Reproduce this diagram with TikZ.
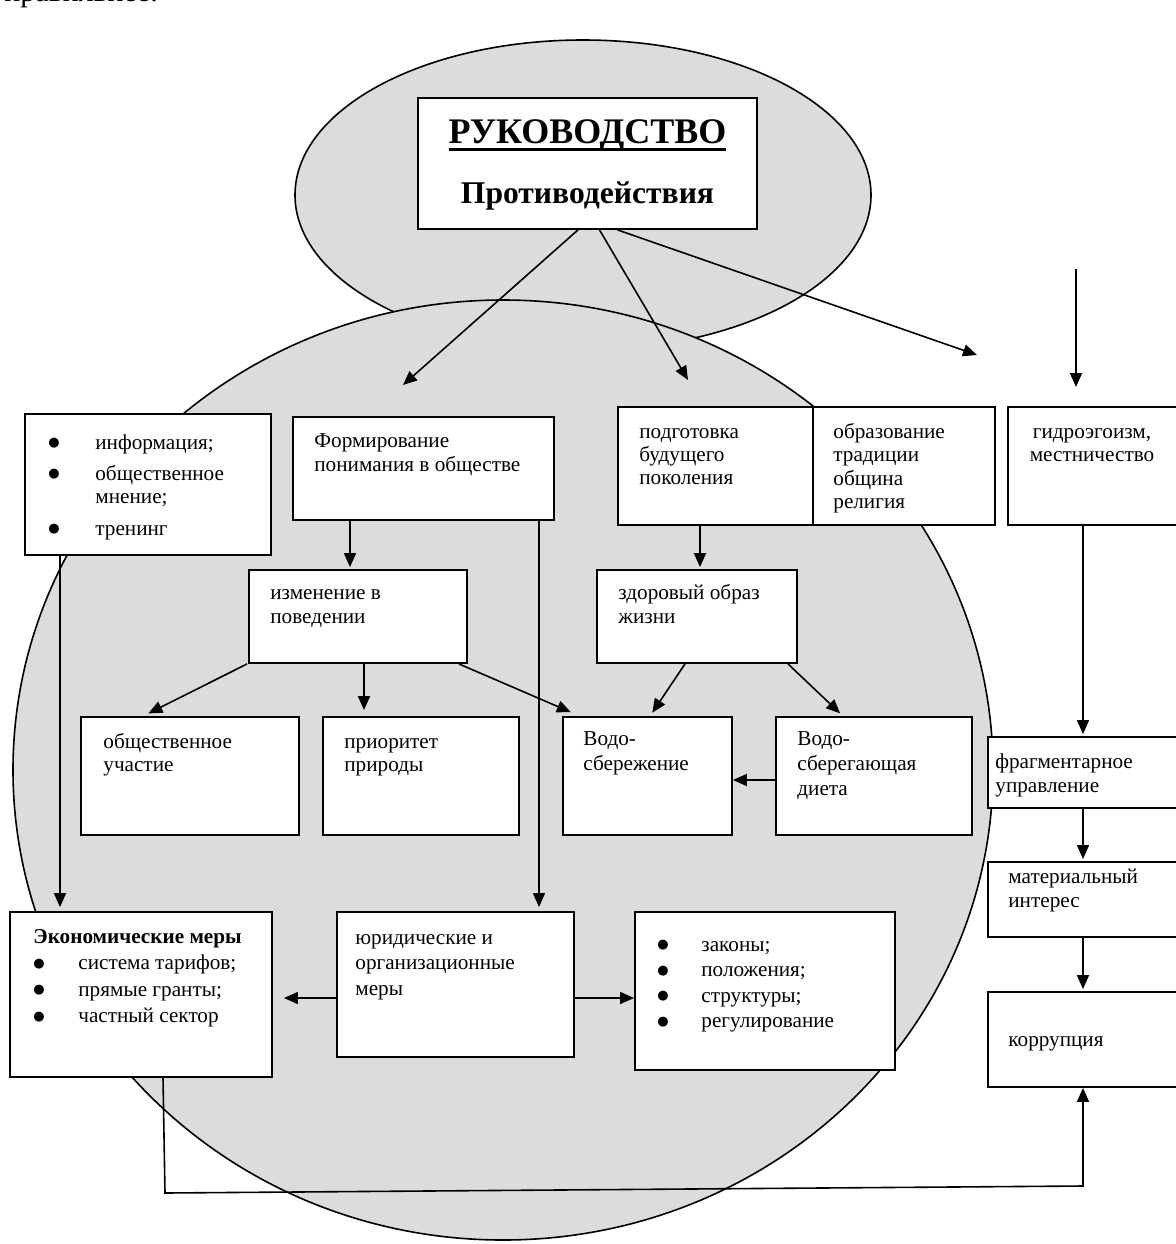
\documentclass[tikz,border=0pt]{standalone}
\usepackage{fontspec}
\setmainfont{Liberation Serif}
\newfontfamily\symf{DejaVu Sans}
\usetikzlibrary{arrows.meta,calc,fit}
\definecolor{blobgray}{HTML}{DCDCDC}
\newcommand\mybul[1]{\makebox[#1][l]{\raisebox{1.3pt}{\symf\fontsize{6.5}{7}\selectfont ●}}}
\newcommand\myul[1]{\setbox0\hbox{#1}\rlap{\rule[-4pt]{\wd0}{1.5pt}}\box0}
\newcommand\fs{\rule{0pt}{9pt}}
\begin{document}
\begin{tikzpicture}[x=0.5pt,y=-0.5pt,
  box/.style={draw, fill=white, line width=0.9pt, inner sep=0pt},
  txt/.style={inner sep=0pt, anchor=north west, align=left, font=\fontsize{10.6}{12}\selectfont},
  arr/.style={line width=0.8pt, -{Triangle[length=7pt,width=6pt]}},
  blob/.style={draw, fill=blobgray, line width=0.8pt},
]
\useasboundingbox (0,0) rectangle (1176,1244);

% partial text cut at the top edge
\node[inner sep=0pt, anchor=base west, font=\fontsize{15}{17}\selectfont] (toptext) at (4,1) {правильнее.};

% background shapes
\path[blob] (583,195) ellipse [x radius=288, y radius=155];
\path[blob] (503,770) ellipse [x radius=490, y radius=470];

% helper coordinates
\coordinate (x60) at (60,0);
\coordinate (x143) at (143,0);
\coordinate (x163) at (163,0);
\coordinate (x350) at (350,0);
\coordinate (x364) at (364,0);
\coordinate (x539) at (539,0);
\coordinate (x580) at (580,0);
\coordinate (x650) at (650,0);
\coordinate (x685) at (685,0);
\coordinate (x700) at (700,0);
\coordinate (x788) at (788,0);
\coordinate (x843) at (843,0);
\coordinate (x1083) at (1083,0);
\coordinate (y780) at (0,780);
\coordinate (y998) at (0,998);
\coordinate (t1) at (403,385);
\coordinate (t2) at (688,380);
\coordinate (t3) at (977,355);
\coordinate (f1) at (1076,269);
\coordinate (f2) at (1076,387);
\coordinate (b1) at (165,1193);
\coordinate (b2) at (1083,1186);

% boxes
\node[box, fit={(418,98) (757,229)}] (title) {};
\node[box, fit={(25,414) (271,555)}] (info) {};
\node[box, fit={(293,417) (554,520)}] (form) {};
\node[box, fit={(618,407) (813,525)}] (podg) {};
\node[box, fit={(813,407) (995,525)}] (obraz) {};
\node[box, fit={(1008,407) (1178,525)}] (gidro) {};
\node[box, fit={(249,570) (467,663)}] (izm) {};
\node[box, fit={(597,570) (797,663)}] (zdor) {};
\node[box, fit={(81,717) (299,835)}] (obsh) {};
\node[box, fit={(323,717) (519,835)}] (prior) {};
\node[box, fit={(563,717) (732,835)}] (vodo) {};
\node[box, fit={(776,717) (972,835)}] (vodod) {};
\node[box, fit={(988,737) (1178,808)}] (frag) {};
\node[box, fit={(988,862) (1178,937)}] (mat) {};
\node[box, fit={(988,992) (1178,1087)}] (korr) {};
\node[box, fit={(10,912) (272,1077)}] (econ) {};
\node[box, fit={(337,912) (574,1057)}] (jur) {};
\node[box, fit={(635,912) (895,1070)}] (zak) {};

% texts (node top = first baseline - 18)
\node[inner sep=0pt, anchor=base, font=\bfseries\fontsize{18}{20}\selectfont] (title-a) at (587.5,143) {\myul{РУКОВОДСТВО}};
\node[inner sep=0pt, anchor=base, font=\bfseries\fontsize{15.8}{18}\selectfont] (title-b) at (587.5,203) {Противодействия};

\node[txt, font=\fontsize{10.6}{11.5}\selectfont] (info-t) at (48,431) {\fs\mybul{23.5pt}информация;\\[4pt]\mybul{23.5pt}общественное\\\hspace*{23.5pt}мнение;\\[4.5pt]\mybul{23.5pt}тренинг};
\node[txt] (form-t) at (314,429) {\fs Формирование\\понимания в обществе};
\node[txt, font=\fontsize{10.6}{11.5}\selectfont] (podg-t) at (639,420) {\fs подготовка\\будущего\\поколения};
\node[txt, font=\fontsize{10.6}{11.75}\selectfont] (obraz-t) at (833,420) {\fs образование\\традиции\\община\\религия};
\node[inner sep=0pt, anchor=north, align=center, font=\fontsize{10.6}{11.5}\selectfont] (gidro-t) at (1092,420) {\fs гидроэгоизм,\\местничество};
\node[txt] (izm-t) at (270,581) {\fs изменение в\\поведении};
\node[txt] (zdor-t) at (618,581) {\fs здоровый образ\\жизни};
\node[txt, font=\fontsize{10.6}{11.5}\selectfont] (obsh-t) at (103,730) {\fs общественное\\участие};
\node[txt, font=\fontsize{10.6}{11.5}\selectfont] (prior-t) at (344,730) {\fs приоритет\\природы};
\node[txt, font=\fontsize{10.6}{12.5}\selectfont] (vodo-t) at (583,727) {\fs Водо-\\сбережение};
\node[txt, font=\fontsize{10.6}{12.5}\selectfont] (vodod-t) at (797,727) {\fs Водо-\\сберегающая\\диета};
\node[txt] (frag-t) at (995,750) {\fs фрагментарное\\управление};
\node[txt] (mat-t) at (1008,865) {\fs материальный\\интерес};
\node[txt] (korr-t) at (1008,1028) {\fs коррупция};
\node[txt, font=\fontsize{10.6}{13.25}\selectfont] (econ-t) at (33,925) {\fs\textbf{Экономические меры}\\\mybul{22.5pt}система тарифов;\\\mybul{22.5pt}прямые гранты;\\\mybul{22.5pt}частный сектор};
\node[txt, font=\fontsize{10.6}{12.75}\selectfont] (jur-t) at (355,926) {\fs юридические и\\организационные\\меры};
\node[txt, font=\fontsize{10.6}{12.75}\selectfont] (zak-t) at (657,933) {\fs\mybul{22pt}законы;\\\mybul{22pt}положения;\\\mybul{22pt}структуры;\\\mybul{22pt}регулирование};

% connectors
\draw[arr] ([xshift=-4.75pt]title.south) -- (t1);
\draw[arr] ([xshift=6pt]title.south) -- (t2);
\draw[arr] ([xshift=15pt]title.south) -- (t3);
\draw[arr] (f1) -- (f2);

\draw[arr, shorten >=2pt] (info.south -| x60) -- (econ.north -| x60);
\draw[arr, shorten >=1pt] (form.south -| x350) -- (izm.north -| x350);
\draw[arr, shorten >=2pt] (form.south -| x539) -- (jur.north -| x539);
\draw[arr, shorten >=1pt] (podg.south -| x700) -- (zdor.north -| x700);
\draw[arr, shorten >=3pt] ([xshift=-0.5pt]izm.south west) -- (obsh.north -| x143);
\draw[arr, shorten >=3pt] (izm.south -| x364) -- (prior.north -| x364);
\draw[arr, shorten >=5pt] ([xshift=-4.5pt]izm.south east) -- (vodo.north -| x580);
\draw[arr, shorten >=2pt] (zdor.south -| x685) -- (vodo.north -| x650);
\draw[arr, shorten >=2pt] (zdor.south -| x788) -- (vodod.north -| x843);
\draw[arr] (vodod.west |- y780) -- (vodo.east |- y780);
\draw[arr, shorten >=1pt] (gidro.south -| x1083) -- (frag.north -| x1083);
\draw[arr, shorten >=1pt] (frag.south -| x1083) -- (mat.north -| x1083);
\draw[arr, shorten >=1pt] (mat.south -| x1083) -- (korr.north -| x1083);
\draw[arr, shorten >=5.5pt] (jur.west |- y998) -- (econ.east |- y998);
\draw[arr] (jur.east |- y998) -- (zak.west |- y998);
\draw[arr] (econ.south -| x163) -- (b1) -- (b2) -- (korr.south -| x1083);
\end{tikzpicture}
\end{document}
